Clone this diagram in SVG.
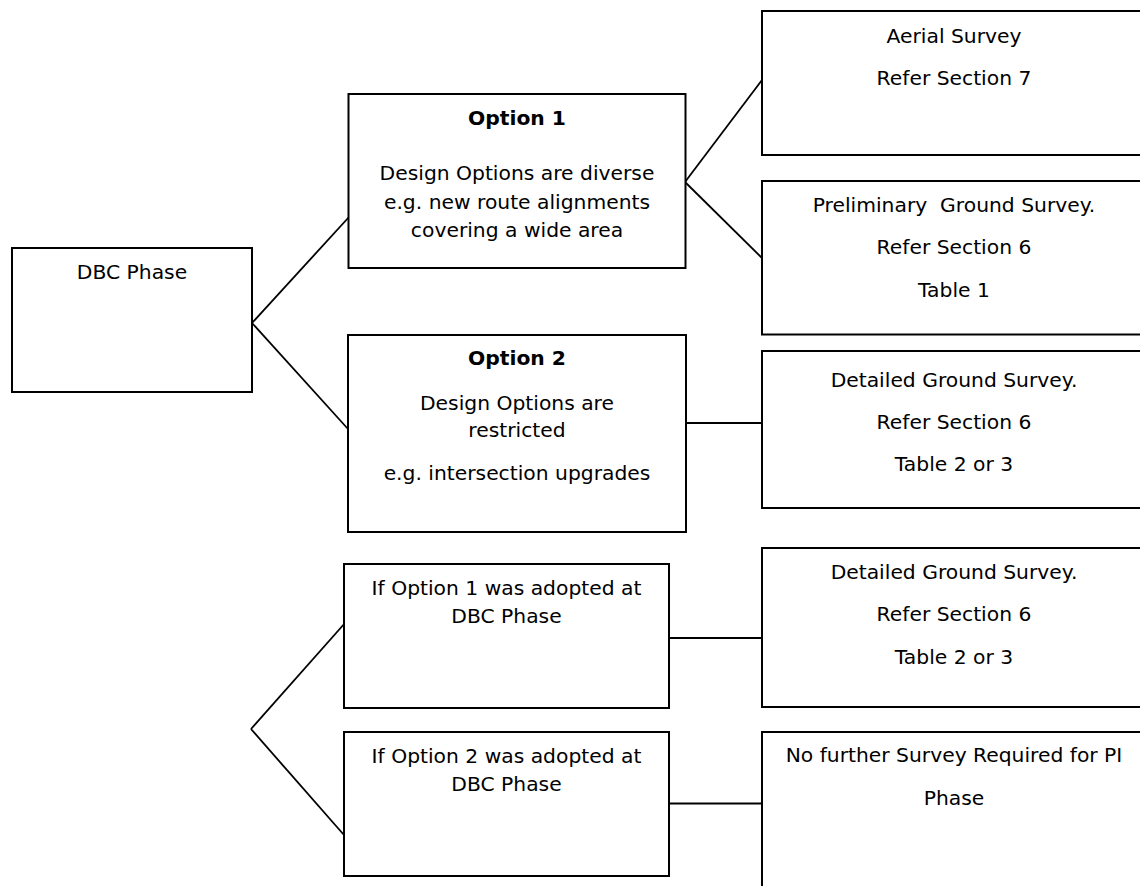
<svg xmlns="http://www.w3.org/2000/svg" width="1140" height="886" viewBox="0 0 1140 886">
  <style>
    .box { fill: #ffffff; stroke: #000000; stroke-width: 2; }
    .conn { fill: none; stroke: #000000; stroke-width: 1.8; }
    text { font-family: "DejaVu Sans", "Liberation Sans", sans-serif; font-size: 20.3px; fill: #000000; text-anchor: middle; }
    .b { font-weight: bold; }
  </style>
  <rect x="0" y="0" width="1140" height="886" fill="#ffffff"/>
  <g id="connectors">
    <line class="conn" x1="252" y1="323" x2="349" y2="217"/>
    <line class="conn" x1="252" y1="323" x2="348" y2="429"/>
    <line class="conn" x1="685" y1="182" x2="762" y2="80"/>
    <line class="conn" x1="685" y1="182" x2="762" y2="258"/>
    <line class="conn" x1="686" y1="423" x2="762" y2="423"/>
    <line class="conn" x1="251" y1="729" x2="345" y2="623"/>
    <line class="conn" x1="251" y1="729" x2="344" y2="835"/>
    <line class="conn" x1="669" y1="638" x2="762" y2="638"/>
    <line class="conn" x1="669" y1="803.5" x2="762" y2="803.5"/>
  </g>
  <g id="dbc">
    <rect class="box" x="12" y="248" width="240" height="144"/>
    <text x="132" y="279">DBC Phase</text>
  </g>
  <g id="option1">
    <rect class="box" x="348.5" y="94" width="337" height="174"/>
    <text class="b" x="517" y="125">Option 1</text>
    <text x="517" y="180">Design Options are diverse</text>
    <text x="517" y="208.5">e.g. new route alignments</text>
    <text x="517" y="237">covering a wide area</text>
  </g>
  <g id="option2">
    <rect class="box" x="348" y="335" width="338" height="197"/>
    <text class="b" x="517" y="365">Option 2</text>
    <text x="517" y="410">Design Options are</text>
    <text x="517" y="437">restricted</text>
    <text x="517" y="480">e.g. intersection upgrades</text>
  </g>
  <g id="aerial">
    <rect class="box" x="762" y="11" width="400" height="144"/>
    <text x="954" y="43">Aerial Survey</text>
    <text x="954" y="85">Refer Section 7</text>
  </g>
  <g id="preliminary">
    <rect class="box" x="762" y="181" width="400" height="153.5"/>
    <text x="954" y="211.5" xml:space="preserve">Preliminary  Ground Survey.</text>
    <text x="954" y="253.5">Refer Section 6</text>
    <text x="954" y="296.5">Table 1</text>
  </g>
  <g id="detailed1">
    <rect class="box" x="762" y="351" width="400" height="157"/>
    <text x="954" y="386.5">Detailed Ground Survey.</text>
    <text x="954" y="428.5">Refer Section 6</text>
    <text x="954" y="471">Table 2 or 3</text>
  </g>
  <g id="if1">
    <rect class="box" x="344" y="564" width="325" height="144"/>
    <text x="506.5" y="595">If Option 1 was adopted at</text>
    <text x="506.5" y="623">DBC Phase</text>
  </g>
  <g id="if2">
    <rect class="box" x="344" y="732" width="325" height="144"/>
    <text x="506.5" y="762.5">If Option 2 was adopted at</text>
    <text x="506.5" y="790.5">DBC Phase</text>
  </g>
  <g id="detailed2">
    <rect class="box" x="762" y="548" width="400" height="159"/>
    <text x="954" y="579">Detailed Ground Survey.</text>
    <text x="954" y="621">Refer Section 6</text>
    <text x="954" y="664">Table 2 or 3</text>
  </g>
  <g id="nofurther">
    <rect class="box" x="762" y="732" width="400" height="200"/>
    <text x="954" y="762">No further Survey Required for PI</text>
    <text x="954" y="805">Phase</text>
  </g>
</svg>
